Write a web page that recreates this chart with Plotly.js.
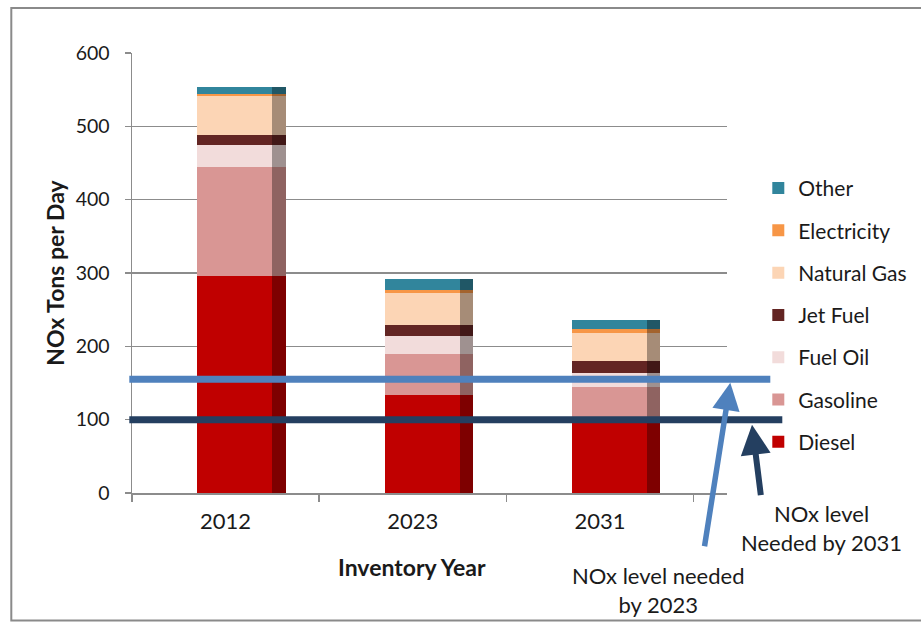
<!DOCTYPE html>
<html>
<head>
<meta charset="utf-8">
<script src="https://cdn.plot.ly/plotly-3.0.1.min.js"></script>
<style>html,body{margin:0;padding:0;background:#fff;}#chart{width:921px;height:623px;}</style>
</head>
<body>
<div id="chart"></div>
<script>
// ---- data ----
const years = ['2012', '2023', '2031'];
const diesel = [296, 133, 101];
const gasoline = [148, 57, 43.5];
const fuelOil = [30.5, 24, 19];
const jetFuel = [14, 14.5, 17];
const naturalGas = [53, 44, 37.5];
const electricity = [2, 5, 5.5];
const other = [10, 14, 12.5];
const seriesNames = ['Diesel', 'Gasoline', 'Fuel Oil', 'Jet Fuel', 'Natural Gas', 'Electricity', 'Other'];
const seriesValues = [diesel, gasoline, fuelOil, jetFuel, naturalGas, electricity, other];
const seriesColors = ['#C00000', '#D99694', '#F2DCDB', '#632523', '#FCD5B5', '#F79646', '#31859C'];
const levelNames = ['NOx level needed by 2023', 'NOx level needed by 2031'];
const levelValues = [155, 100];
const levelColors = ['#4F81BD', '#243F60'];

// ---- geometry helpers (pixel -> paper) ----
const PL = 131.7, PR = 726.7, PT = 53, PB = 493.3;
const px = v => (v - PL) / (PR - PL);
const py = v => (PB - v) / (PB - PT);

const traces = [];
seriesNames.forEach((name, i) => {
  traces.push({
    type: 'bar', name: name, x: years, y: seriesValues[i],
    marker: {color: seriesColors[i], line: {width: 0}},
    offset: -0.151, width: 0.471,
    legendgroup: name, legendrank: seriesNames.length - i, hoverinfo: 'name+y'
  });
});
// darker side strip (3D look)
seriesNames.forEach((name, i) => {
  traces.push({
    type: 'bar', name: name + ' side', x: years, y: seriesValues[i],
    xaxis: 'x2', yaxis: 'y',
    marker: {color: 'rgba(0,0,0,0.34)', line: {width: 0}},
    offset: 0.25, width: 0.071,
    showlegend: false, hoverinfo: 'skip'
  });
});

const FONT = 'Lato, "Open Sans", "Liberation Sans", sans-serif';
const TXT = '#1a1a1a';
const xr = [-0.5, 2.678];

const shapes = [
  {type: 'rect', xref: 'paper', yref: 'paper', x0: px(11), x1: px(940), y0: py(621), y1: py(8),
   line: {color: '#8a8a8a', width: 2}, layer: 'below'}
];
const lineEnds = [770, 782];
levelValues.forEach((v, i) => {
  shapes.push({type: 'line', xref: 'paper', yref: 'y', x0: px(129), x1: px(lineEnds[i]), y0: v, y1: v,
    line: {color: levelColors[i], width: 7}, layer: 'above'});
});

const annotations = [
  {xref: 'paper', yref: 'paper', x: px(412), y: py(567), text: '<b>Inventory Year</b>', showarrow: false,
   font: {family: FONT, size: 23, color: TXT}, xanchor: 'center', yanchor: 'middle'},
  {xref: 'paper', yref: 'paper', x: px(657.5), y: py(590), text: 'NOx level needed<br>by 2023', showarrow: false,
   font: {family: FONT, size: 22, color: TXT}, xanchor: 'center', yanchor: 'middle', align: 'center'},
  {xref: 'paper', yref: 'paper', x: px(821), y: py(528.5), text: 'NOx level<br>Needed by 2031', showarrow: false,
   font: {family: FONT, size: 22, color: TXT}, xanchor: 'center', yanchor: 'middle', align: 'center'},
  {xref: 'paper', yref: 'paper', x: px(730), y: py(383), text: '', showarrow: true, ax: -26, ay: 165,
   arrowhead: 2, arrowsize: 1, arrowwidth: 5.5, arrowcolor: levelColors[0]},
  {xref: 'paper', yref: 'paper', x: px(751.7), y: py(425), text: '', showarrow: true, ax: 9, ay: 72,
   arrowhead: 2, arrowsize: 1, arrowwidth: 6, arrowcolor: levelColors[1]}
];

const layout = {
  width: 921, height: 623,
  margin: {l: PL, r: 921 - PR, t: PT, b: 623 - PB, pad: 0, autoexpand: false},
  paper_bgcolor: '#ffffff', plot_bgcolor: '#ffffff',
  font: {family: FONT, color: TXT},
  barmode: 'stack', bargap: 0,
  showlegend: true,
  legend: {
    x: px(758), y: py(168), xanchor: 'left', yanchor: 'top',
    traceorder: 'grouped', tracegroupgap: 12,
    font: {family: FONT, size: 21, color: TXT},
    bgcolor: 'rgba(0,0,0,0)', borderwidth: 0
  },
  xaxis: {
    type: 'category', categoryorder: 'array', categoryarray: years, range: xr,
    showline: true, linecolor: '#8c8c8c', linewidth: 1.5,
    ticks: 'outside', tickson: 'boundaries', ticklen: 7, tickcolor: '#8c8c8c', tickwidth: 1.5,
    showgrid: false, zeroline: false, automargin: false,
    tickfont: {family: FONT, size: 22, color: TXT}, ticklabelstandoff: 8
  },
  xaxis2: {
    type: 'category', categoryorder: 'array', categoryarray: years, range: xr,
    overlaying: 'x', visible: false, showgrid: false
  },
  yaxis: {
    range: [0, 600], dtick: 100, tick0: 0,
    showline: true, linecolor: '#8c8c8c', linewidth: 1.5,
    ticks: 'outside', ticklen: 6, tickcolor: '#8c8c8c', tickwidth: 1.5,
    showgrid: true, gridcolor: '#8c8c8c', gridwidth: 1.3, zeroline: false, automargin: false,
    tickfont: {family: FONT, size: 19.5, color: TXT}, ticklabelstandoff: 11,
    title: {text: '<b>NOx Tons per Day</b>', font: {family: FONT, size: 23, color: TXT}, standoff: 4}
  },
  shapes: shapes,
  annotations: annotations
};

Plotly.newPlot('chart', traces, layout, {displayModeBar: false, staticPlot: true});
</script>
</body>
</html>
